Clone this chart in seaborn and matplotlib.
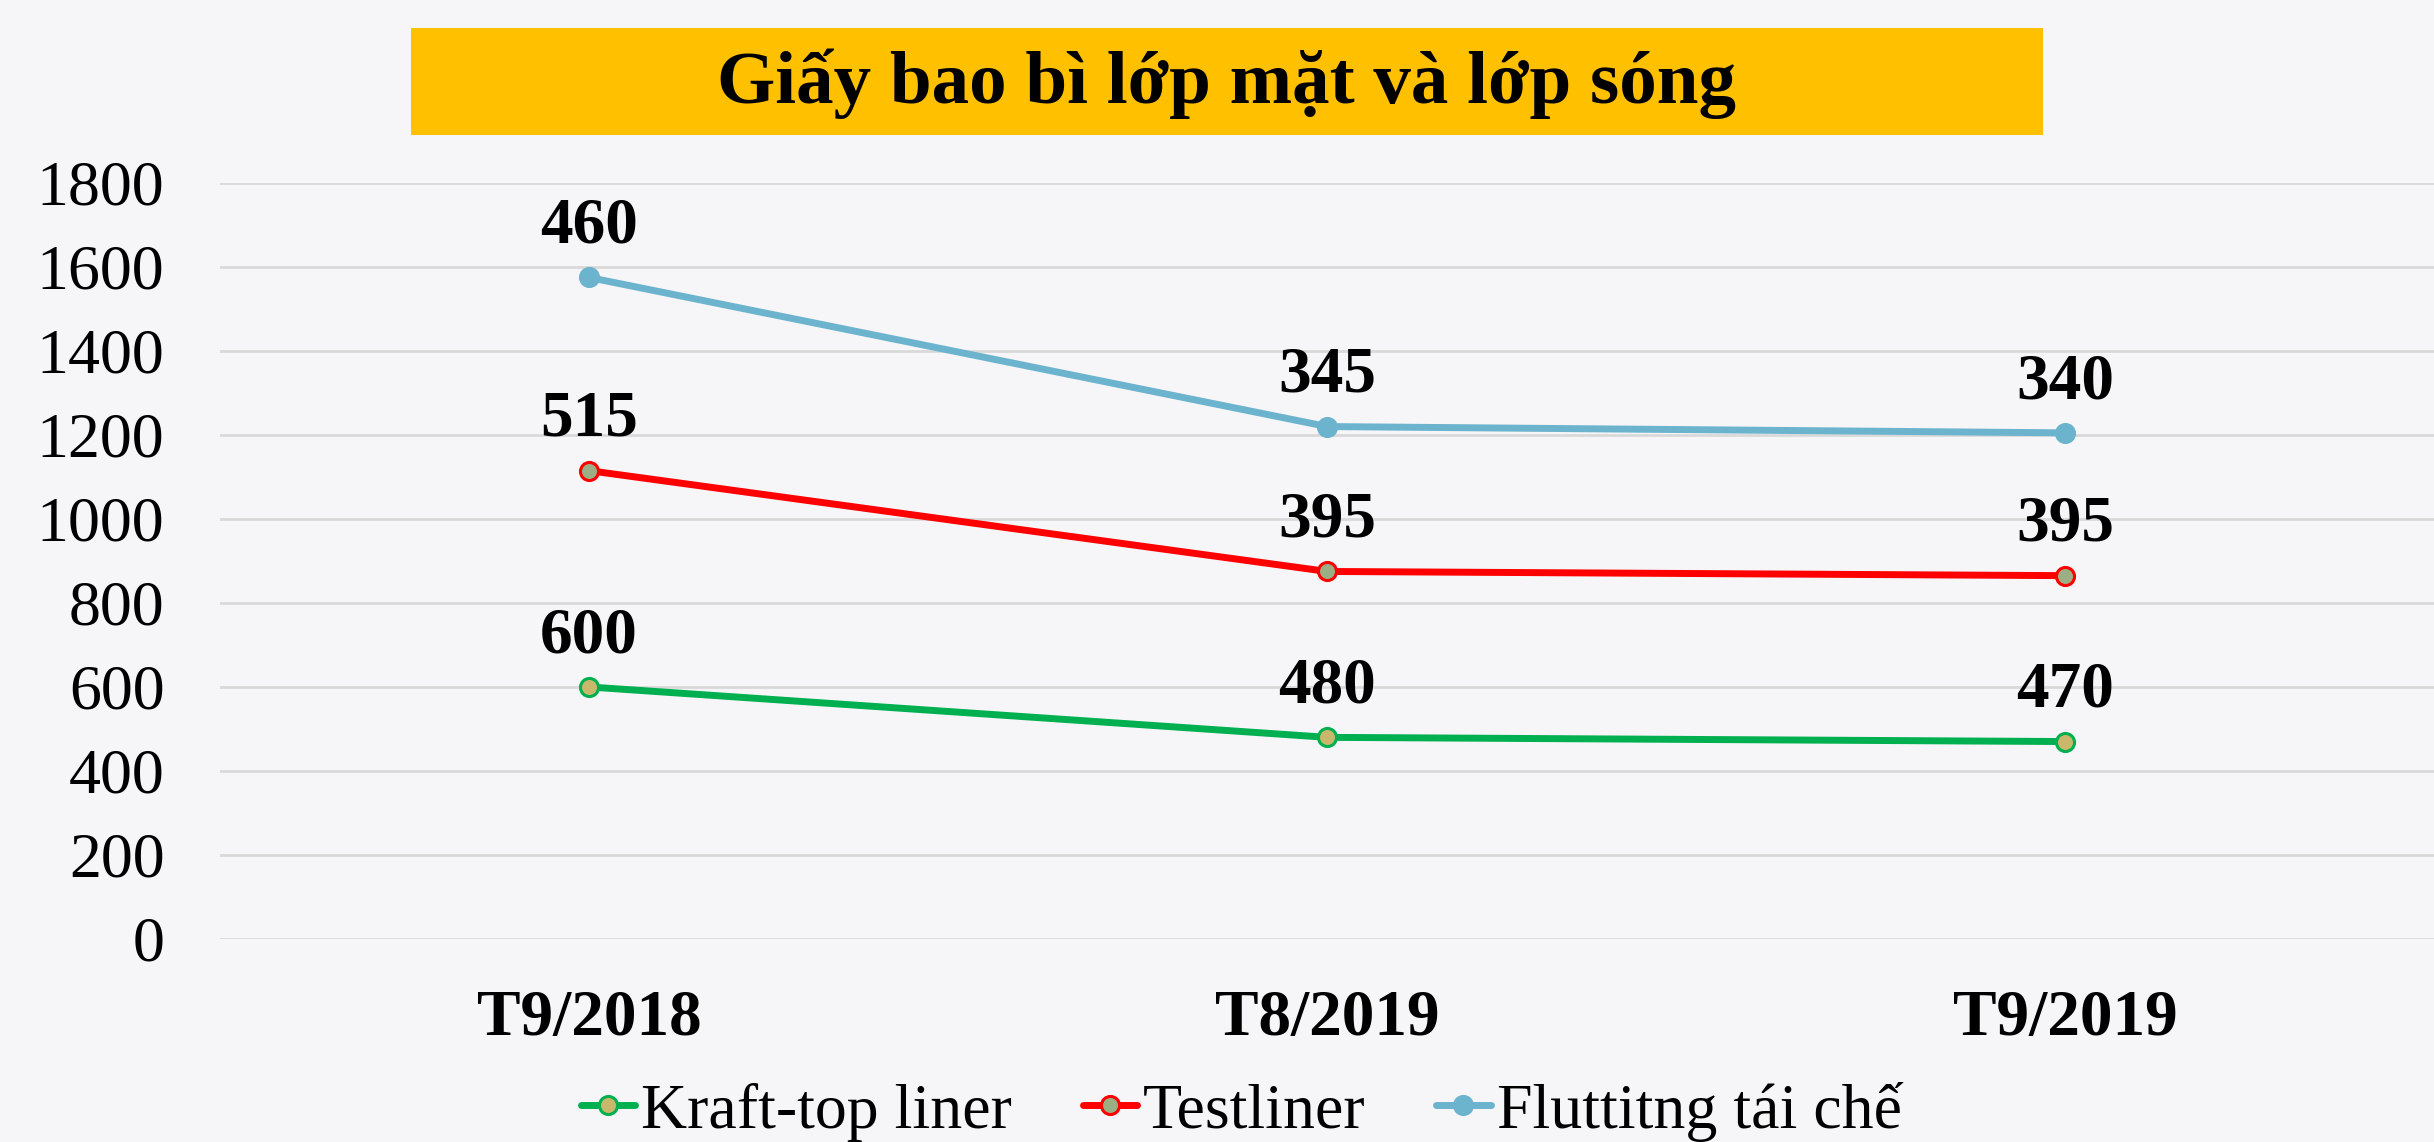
import numpy as np
import pandas as pd
import matplotlib.pyplot as plt
import seaborn as sns
from matplotlib.patches import Rectangle

# dữ liệu
months = ["T9/2018", "T8/2019", "T9/2019"]
series_names = ["Kraft-top liner", "Testliner", "Fluttitng tái chế"]
kraft = [600, 480, 470]
testliner = [515, 395, 395]
fluting = [460, 345, 340]
yticks = [0, 200, 400, 600, 800, 1000, 1200, 1400, 1600, 1800]

line_colors = ["#00B050", "#FF0000", "#6CB3CE"]
face_colors = ["#C9B76C", "#9CAF84", "#6CB3CE"]

# biểu đồ đường xếp chồng
values = [kraft, testliner, fluting]
stacked = np.cumsum(np.array(values), axis=0)
rows = []
for name, vals, cum in zip(series_names, values, stacked):
    for m, v, c in zip(months, vals, cum):
        rows.append({"month": m, "series": name, "value": v, "stacked": c})
df = pd.DataFrame(rows)
df["month"] = pd.Categorical(df["month"], categories=months, ordered=True)

sns.set_style("white")
plt.rcParams["font.family"] = ["Liberation Serif", "DejaVu Serif"]
plt.rcParams["text.color"] = "black"
plt.rcParams["xtick.color"] = "black"
plt.rcParams["ytick.color"] = "black"

fig = plt.figure(figsize=(24.34, 11.42), dpi=100)
fig.patch.set_facecolor("#F6F6F8")
ax = fig.add_axes([0.0904, 0.1778, 0.9096, 0.662])
ax.set_facecolor("none")

for name, lc, fc in zip(series_names, line_colors, face_colors):
    sub = df[df["series"] == name]
    sns.lineplot(data=sub, x="month", y="stacked", ax=ax, color=lc, linewidth=5,
                 marker="o", markersize=13, markerfacecolor=fc, markeredgecolor=lc,
                 markeredgewidth=2.2, label=name, sort=False)
    for i, (v, c) in enumerate(zip(sub["value"], sub["stacked"])):
        ax.annotate(str(v), (i, c), xytext=(0, 15), textcoords="offset points",
                    ha="center", va="bottom", fontsize=47, fontweight="bold",
                    color="black")

ax.set_xlim(-0.5, 2.5)
ax.set_ylim(0, 1800)
ax.set_yticks(yticks)
ax.set_xticks(range(len(months)))
ax.set_xticklabels(months, fontsize=47, fontweight="bold")
ax.tick_params(axis="y", labelsize=46, length=0, pad=40)
ax.tick_params(axis="x", length=0, pad=36)
ax.grid(axis="y", color="#D9D9D9", linewidth=2)
ax.set_axisbelow(True)
ax.set_xlabel("")
ax.set_ylabel("")
for s in ax.spines.values():
    s.set_visible(False)

handles, labels = ax.get_legend_handles_labels()
ax.get_legend().remove()
fig.legend(handles, labels, loc="lower center", bbox_to_anchor=(0.51, -0.05), ncol=3,
           frameon=False, fontsize=46, handlelength=0.85, handletextpad=0.1,
           columnspacing=1.1)

# tiêu đề
fig.patches.append(Rectangle((0.1689, 0.8818), 0.6705, 0.0937, transform=fig.transFigure,
                             facecolor="#FFC000", edgecolor="none"))
fig.text(0.504, 0.927, "Giấy bao bì lớp mặt và lớp sóng", ha="center", va="center",
         fontsize=54, fontweight="bold")

fig.savefig("out.png", dpi=100, facecolor=fig.get_facecolor())
